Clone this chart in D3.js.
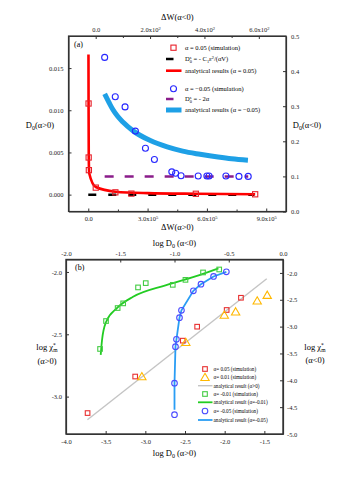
<!DOCTYPE html>
<html><head><meta charset="utf-8">
<script src="https://cdn.jsdelivr.net/npm/d3@7"></script>
<style>
html,body{margin:0;padding:0;background:#fff;}
svg{display:block;font-family:"Liberation Serif","DejaVu Serif",serif;}
</style></head>
<body>
<svg id="chart" width="338" height="479"></svg>
<script>
// ---------- Panel (a) data ----------
const aRedSimX = [1500, 2000, 3000, 38000, 137000, 218000, 544000, 844000];
const aRedSimY = [0.0108, 0.0044, 0.0029, 0.00083, 0.00027, 0.00012, 0.0001, 0.00004];
const aRedLineX = [1000, 1500, 2500, 5000, 38000, 137000, 300000, 544000, 844000];
const aRedLineY = [0.0166, 0.0108, 0.0044, 0.0025, 0.0009, 0.00035, 0.00018, 0.0001, 0.00005];
const aBlackDashX = [0, 840000];
const aBlackDashY = [0, 0];
const aBlueSimX = [33, 72, 108, 146, 183, 216, 280, 294, 314, 377, 409, 417, 479, 527, 561];
const aBlueSimY = [0.439, 0.327, 0.298, 0.229, 0.18, 0.148, 0.113, 0.109, 0.102, 0.101, 0.101, 0.101, 0.101, 0.1, 0.1];
const aBlueLineX = [33, 50, 62, 80, 100, 139, 201, 263, 320, 384, 450, 500, 560];
const aBlueLineY = [0.335, 0.309, 0.292, 0.272, 0.255, 0.229, 0.202, 0.184, 0.172, 0.163, 0.155, 0.150, 0.146];
const aPurpleDashX = [33, 561];
const aPurpleDashY = [0.1, 0.1];
const aBottomTicks = [0, 300000, 600000, 900000];
const aBottomLabels = [["0.0",""], ["3.0x10","5"], ["6.0x10","5"], ["9.0x10","5"]];
const aTopTicks = [0, 200, 400, 600];
const aTopLabels = [["0.0",""], ["2.0x10","2"], ["4.0x10","2"], ["6.0x10","2"]];
const aLeftTicks = [0, 0.005, 0.010, 0.015];
const aRightTicks = [0, 0.1, 0.2, 0.3, 0.4, 0.5];

// ---------- Panel (b) data ----------
const bRedSimX = [-1.795, -1.975, -2.347, -2.528, -3.128, -3.728];
const bRedSimY = [-2.207, -2.305, -2.439, -2.551, -2.839, -3.132];
const bOrangeSimX = [-1.464, -1.59, -1.862, -2.005, -2.49, -3.044];
const bOrangeSimY = [-2.186, -2.231, -2.319, -2.346, -2.564, -2.839];
const bGrayLineX = [-3.73, -1.47];
const bGrayLineY = [-3.186, -2.055];
const bGreenSimX = [-0.588, -0.737, -0.899, -1.016, -1.265, -1.336, -1.473, -1.524, -1.631, -1.686];
const bGreenSimY = [-1.936, -1.991, -2.129, -2.222, -2.19, -2.27, -2.567, -2.654, -2.896, -3.416];
const bGreenLineX = [-1.68, -1.668, -1.631, -1.533, -1.382, -1.076, -0.771, -0.595];
const bGreenLineY = [-3.527, -3.25, -2.914, -2.66, -2.445, -2.227, -2.042, -1.917];
const bBlueSimX = [-0.522, -0.64, -0.756, -0.826, -0.936, -0.954, -0.982, -0.991, -1.0, -1.0];
const bBlueSimY = [-1.98, -2.066, -2.209, -2.333, -2.697, -2.834, -3.236, -3.373, -4.053, -4.641];
const bBlueLineX = [-1.0, -1.0, -0.991, -0.982, -0.954, -0.936, -0.826, -0.756, -0.64, -0.522];
const bBlueLineY = [-4.55, -4.053, -3.373, -3.236, -2.834, -2.697, -2.333, -2.209, -2.066, -1.98];
const bBottomTicks = [-4.0, -3.5, -3.0, -2.5, -2.0, -1.5];
const bTopTicks = [-2.0, -1.5, -1.0, -0.5, 0.0];
const bLeftTicks = [-2.0, -2.5, -3.0];
const bRightTicks = [-2.0, -2.5, -3.0, -3.5, -4.0, -4.5, -5.0];

const svg = d3.select("#chart");
const zip = (xs, ys) => xs.map((x, i) => [x, ys[i]]);
const AXC = "#333";

function styleAxis(g, fs) {
  g.select(".domain").attr("stroke", AXC).attr("stroke-width", 1.2);
  g.selectAll(".tick line").attr("stroke", AXC).attr("stroke-width", 1);
  g.selectAll(".tick text").attr("font-family", "Liberation Serif").attr("font-size", fs).attr("fill", "#222");
}
function supLabels(g, labels) {
  g.selectAll(".tick text").each(function(d, i) {
    const t = d3.select(this); t.text(labels[i][0]);
    if (labels[i][1]) t.append("tspan").attr("dy", -2.5).attr("font-size", 4.5).text(labels[i][1]);
  });
}
function squares(g, pts, x, y, color, s) {
  g.selectAll(null).data(pts).join("rect")
    .attr("x", d => x(d[0]) - s / 2).attr("y", d => y(d[1]) - s / 2)
    .attr("width", s).attr("height", s)
    .attr("fill", "none").attr("stroke", color).attr("stroke-width", 1.1);
}
function circles(g, pts, x, y, color, r) {
  g.selectAll(null).data(pts).join("circle")
    .attr("cx", d => x(d[0])).attr("cy", d => y(d[1])).attr("r", r)
    .attr("fill", "none").attr("stroke", color).attr("stroke-width", 1.1);
}
function triangles(g, pts, x, y, color, s) {
  const sym = d3.symbol().type(d3.symbolTriangle).size(s);
  g.selectAll(null).data(pts).join("path")
    .attr("transform", d => `translate(${x(d[0])},${y(d[1]) + 0.8})`)
    .attr("d", sym).attr("fill", "none").attr("stroke", color).attr("stroke-width", 1.1);
}

// =================== Panel (a) ===================
const A = {l: 68.5, r: 286, t: 36, b: 211.5};
const ax = d3.scaleLinear().domain([-100000, 1000000]).range([A.l, A.r]);
const axTop = d3.scaleLinear().domain([-100, 700]).range([A.l, A.r]);
const ayL = d3.scaleLinear().domain([-0.002, 0.0188]).range([A.b, A.t]);
const ayR = d3.scaleLinear().domain([0, 0.5]).range([A.b, A.t]);

const gA = svg.append("g");
gA.append("rect").attr("x", A.l).attr("y", A.t).attr("width", A.r - A.l).attr("height", A.b - A.t)
  .attr("fill", "none").attr("stroke", AXC).attr("stroke-width", 1.2);

let g;
g = gA.append("g").attr("transform", `translate(0,${A.b})`)
  .call(d3.axisBottom(ax).tickValues(aBottomTicks).tickSizeInner(-3).tickSizeOuter(0).tickPadding(5));
styleAxis(g, 6.5); supLabels(g, aBottomLabels);
gA.append("g").attr("transform", `translate(0,${A.b})`)
  .call(d3.axisBottom(ax).tickValues([150000, 450000, 750000]).tickSizeInner(-2).tickSizeOuter(0).tickFormat(""))
  .call(s => { s.select(".domain").remove(); s.selectAll("line").attr("stroke", AXC); });

g = gA.append("g").attr("transform", `translate(0,${A.t})`)
  .call(d3.axisTop(axTop).tickValues(aTopTicks).tickSizeInner(-3).tickSizeOuter(0).tickPadding(4));
styleAxis(g, 6.5); supLabels(g, aTopLabels);
gA.append("g").attr("transform", `translate(0,${A.t})`)
  .call(d3.axisTop(axTop).tickValues([100, 300, 500]).tickSizeInner(-2).tickSizeOuter(0).tickFormat(""))
  .call(s => { s.select(".domain").remove(); s.selectAll("line").attr("stroke", AXC); });

g = gA.append("g").attr("transform", `translate(${A.l},0)`)
  .call(d3.axisLeft(ayL).tickValues(aLeftTicks).tickFormat(d3.format(".3f")).tickSizeInner(-3).tickSizeOuter(0).tickPadding(5));
styleAxis(g, 6.5);
g = gA.append("g").attr("transform", `translate(${A.r},0)`)
  .call(d3.axisRight(ayR).tickValues(aRightTicks).tickFormat(d3.format(".1f")).tickSizeInner(-3).tickSizeOuter(0).tickPadding(5));
styleAxis(g, 6.5);

gA.append("text").attr("x", (A.l + A.r) / 2).attr("y", 20).attr("text-anchor", "middle")
  .attr("font-size", 8.5).text("ΔW(α<0)");
gA.append("text").attr("x", (A.l + A.r) / 2).attr("y", 230).attr("text-anchor", "middle")
  .attr("font-size", 8.5).text("ΔW(α>0)");
function dLabel(x, y, rest) {
  const t = gA.append("text").attr("x", x).attr("y", y).attr("text-anchor", "middle").attr("font-size", 8.5);
  t.append("tspan").text("D");
  t.append("tspan").attr("dy", 2).attr("font-size", 6).text("0");
  t.append("tspan").attr("dy", -2).text(rest);
}
dLabel(40, 128, "(α>0)");
dLabel(307, 128, "(α<0)");
gA.append("text").attr("x", 74).attr("y", 47).attr("font-size", 8).text("(a)");

const lineA = d3.line().x(d => ax(d[0])).y(d => ayL(d[1]));
const lineAR = d3.line().x(d => axTop(d[0])).y(d => ayR(d[1]));
gA.append("path").attr("d", lineA(zip(aBlackDashX, aBlackDashY))).attr("fill", "none")
  .attr("stroke", "#000").attr("stroke-width", 2.5).attr("stroke-dasharray", "8,12");
gA.append("path").attr("d", lineAR(zip(aPurpleDashX, aPurpleDashY))).attr("fill", "none")
  .attr("stroke", "#8a1c8a").attr("stroke-width", 2.5).attr("stroke-dasharray", "9,11");
gA.append("path").attr("d", lineAR.curve(d3.curveMonotoneX)(zip(aBlueLineX, aBlueLineY))).attr("fill", "none")
  .attr("stroke", "#1ea0e6").attr("stroke-width", 5);
gA.append("path").attr("d", lineA.curve(d3.curveMonotoneX)(zip(aRedLineX, aRedLineY))).attr("fill", "none")
  .attr("stroke", "#ff0000").attr("stroke-width", 2.6);
squares(gA, zip(aRedSimX, aRedSimY), ax, ayL, "#e8202a", 5.2);
circles(gA, zip(aBlueSimX, aBlueSimY), axTop, ayR, "#2626ff", 3);

// legend (a)
const LA = {mx: 173.5, l0: 166, l1: 181.5, tx: 185};
const la = gA.append("g").attr("font-size", 6.5);
const rowsA = [47.7, 59, 70.7, 88.7, 99, 110];
la.append("rect").attr("x", LA.mx - 2.6).attr("y", rowsA[0] - 2.6).attr("width", 5.2).attr("height", 5.2)
  .attr("fill", "none").attr("stroke", "#e8202a").attr("stroke-width", 1.1);
la.append("line").attr("x1", LA.l0).attr("x2", 173.5).attr("y1", rowsA[1]).attr("y2", rowsA[1]).attr("stroke", "#000").attr("stroke-width", 2.5);
la.append("line").attr("x1", LA.l0).attr("x2", LA.l1).attr("y1", rowsA[2]).attr("y2", rowsA[2]).attr("stroke", "#ff0000").attr("stroke-width", 2.6);
la.append("circle").attr("cx", LA.mx).attr("cy", rowsA[3]).attr("r", 3).attr("fill", "none").attr("stroke", "#2626ff").attr("stroke-width", 1.1);
la.append("line").attr("x1", LA.l0).attr("x2", 173.5).attr("y1", rowsA[4]).attr("y2", rowsA[4]).attr("stroke", "#8a1c8a").attr("stroke-width", 2.5);
la.append("line").attr("x1", LA.l0).attr("x2", LA.l1).attr("y1", rowsA[5]).attr("y2", rowsA[5]).attr("stroke", "#1ea0e6").attr("stroke-width", 5);
function dsTxt(y, rest) {
  const t = la.append("text").attr("x", LA.tx).attr("y", y + 2.3);
  t.append("tspan").text("D");
  t.append("tspan").attr("dy", -2.6).attr("font-size", 4.3).text("s");
  t.append("tspan").attr("dx", -1.7).attr("dy", 4.4).attr("font-size", 4.3).text("0");
  t.append("tspan").attr("dy", -1.8).text(rest);
  return t;
}
la.append("text").attr("x", LA.tx).attr("y", rowsA[0] + 2.3).text("α = 0.05 (simulation)");
{
  const t = dsTxt(rowsA[1], " = - C");
  t.append("tspan").attr("dy", 1.6).attr("font-size", 4.3).text("1");
  t.append("tspan").attr("dy", -1.6).text("ε");
  t.append("tspan").attr("dy", -2.6).attr("font-size", 4.3).text("2");
  t.append("tspan").attr("dy", 2.6).text("/(αV)");
}
la.append("text").attr("x", LA.tx).attr("y", rowsA[2] + 2.3).text("analytical results (α = 0.05)");
la.append("text").attr("x", LA.tx).attr("y", rowsA[3] + 2.3).text("α = −0.05  (simulation)");
dsTxt(rowsA[4], " = - 2α");
la.append("text").attr("x", LA.tx).attr("y", rowsA[5] + 2.3).text("analytical results (α = −0.05)");

// =================== Panel (b) ===================
const B = {l: 66, r: 283, t: 259.5, b: 434};
const bx = d3.scaleLinear().domain([-4.0, -1.265]).range([B.l, B.r]);
const bxTop = d3.scaleLinear().domain([-2.0, 0.0]).range([B.l, B.r]);
const byL = d3.scaleLinear().domain([-3.3, -1.9]).range([B.b, B.t]);
const byR = d3.scaleLinear().domain([-5.0, -1.75]).range([B.b, B.t]);

const gB = svg.append("g");
gB.append("rect").attr("x", B.l).attr("y", B.t).attr("width", B.r - B.l).attr("height", B.b - B.t)
  .attr("fill", "none").attr("stroke", AXC).attr("stroke-width", 1.4);
const f1 = d3.format(".1f");
g = gB.append("g").attr("transform", `translate(0,${B.b})`)
  .call(d3.axisBottom(bx).tickValues(bBottomTicks).tickFormat(f1).tickSizeInner(-3).tickSizeOuter(0).tickPadding(5));
styleAxis(g, 6.5);
g = gB.append("g").attr("transform", `translate(0,${B.t})`)
  .call(d3.axisTop(bxTop).tickValues(bTopTicks).tickFormat(f1).tickSizeInner(-3).tickSizeOuter(0).tickPadding(4));
styleAxis(g, 6.5);
g = gB.append("g").attr("transform", `translate(${B.l},0)`)
  .call(d3.axisLeft(byL).tickValues(bLeftTicks).tickFormat(f1).tickSizeInner(-3).tickSizeOuter(0).tickPadding(4));
styleAxis(g, 6.5);
g = gB.append("g").attr("transform", `translate(${B.r},0)`)
  .call(d3.axisRight(byR).tickValues(bRightTicks).tickFormat(f1).tickSizeInner(-3).tickSizeOuter(0).tickPadding(4));
styleAxis(g, 6.5);
gB.selectAll(".tick text").text(function() { return d3.select(this).text().replace("−", "-"); });

function logD(x, y, rest) {
  const t = gB.append("text").attr("x", x).attr("y", y).attr("text-anchor", "middle").attr("font-size", 8.5);
  t.append("tspan").text("log D");
  t.append("tspan").attr("dy", 2).attr("font-size", 6).text("0");
  t.append("tspan").attr("dy", -2).text(rest);
}
logD((B.l + B.r) / 2, 246, " (α<0)");
logD((B.l + B.r) / 2, 456, " (α>0)");
function chiLabel(x, y, rest) {
  const t = gB.append("text").attr("x", x).attr("y", y).attr("text-anchor", "middle").attr("font-size", 8.5);
  t.append("tspan").text("log χ");
  t.append("tspan").attr("dy", -3).attr("font-size", 5.5).text("*");
  t.append("tspan").attr("dx", -2.5).attr("dy", 5).attr("font-size", 5.5).text("m");
  gB.append("text").attr("x", x).attr("y", y + 13.5).attr("text-anchor", "middle").attr("font-size", 8.5).text(rest);
}
chiLabel(47, 350, "(α>0)");
chiLabel(315, 349.5, "(α<0)");
gB.append("text").attr("x", 75).attr("y", 270).attr("font-size", 8).text("(b)");

const lineB = d3.line().x(d => bx(d[0])).y(d => byL(d[1]));
const lineBR = d3.line().x(d => bxTop(d[0])).y(d => byR(d[1]));
gB.append("path").attr("d", lineB(zip(bGrayLineX, bGrayLineY))).attr("fill", "none")
  .attr("stroke", "#c4c4c4").attr("stroke-width", 1.4);
gB.append("path").attr("d", lineBR.curve(d3.curveMonotoneX)(zip(bGreenLineX, bGreenLineY))).attr("fill", "none")
  .attr("stroke", "#22cc22").attr("stroke-width", 1.8);
squares(gB, zip(bGreenSimX, bGreenSimY), bxTop, byR, "#44cc44", 4.6);
gB.append("path").attr("d", d3.line().x(d => bxTop(d[0])).y(d => byR(d[1]))(zip(bBlueLineX, bBlueLineY))).attr("fill", "none")
  .attr("stroke", "#2a9df4").attr("stroke-width", 1.8);
circles(gB, zip(bBlueSimX, bBlueSimY), bxTop, byR, "#4a4aff", 2.8);
squares(gB, zip(bRedSimX, bRedSimY), bx, byL, "#e83030", 4.6);
triangles(gB, zip(bOrangeSimX, bOrangeSimY), bx, byL, "#ffb800", 30);

// legend (b)
const lb = gB.append("g").attr("font-size", 5.2);
const rowsB = [369, 377.3, 385.7, 394, 402.3, 411, 420];
const LB = {mx: 205, l0: 198, l1: 212.5, tx: 213.5};
lb.append("rect").attr("x", LB.mx - 2.3).attr("y", rowsB[0] - 2.3).attr("width", 4.6).attr("height", 4.6)
  .attr("fill", "none").attr("stroke", "#e83030").attr("stroke-width", 1.1);
lb.append("path").attr("transform", `translate(${LB.mx},${rowsB[1] + 0.8})`).attr("d", d3.symbol().type(d3.symbolTriangle).size(30)())
  .attr("fill", "none").attr("stroke", "#ffb800").attr("stroke-width", 1.1);
lb.append("line").attr("x1", LB.l0).attr("x2", LB.l1).attr("y1", rowsB[2]).attr("y2", rowsB[2]).attr("stroke", "#c4c4c4").attr("stroke-width", 1.4);
lb.append("rect").attr("x", LB.mx - 2.3).attr("y", rowsB[3] - 2.3).attr("width", 4.6).attr("height", 4.6)
  .attr("fill", "none").attr("stroke", "#44cc44").attr("stroke-width", 1.1);
lb.append("line").attr("x1", LB.l0).attr("x2", LB.l1).attr("y1", rowsB[4]).attr("y2", rowsB[4]).attr("stroke", "#22cc22").attr("stroke-width", 1.8);
lb.append("circle").attr("cx", LB.mx).attr("cy", rowsB[5]).attr("r", 2.8).attr("fill", "none").attr("stroke", "#4a4aff").attr("stroke-width", 1.1);
lb.append("line").attr("x1", LB.l0).attr("x2", LB.l1).attr("y1", rowsB[6]).attr("y2", rowsB[6]).attr("stroke", "#2a9df4").attr("stroke-width", 1.8);
const legBText = ["α= 0.05 (simulation)", "α= 0.01 (simulation)", "analytical result (α>0)",
  "α= -0.01 (simulation)", "analytical result (α=-0.01)", "α= -0.05 (simulation)", "analytical result (α=-0.05)"];
legBText.forEach((s, i) => {
  lb.append("text").attr("x", LB.tx).attr("y", rowsB[i] + 1.8).text(s);
});
</script>
</body></html>
